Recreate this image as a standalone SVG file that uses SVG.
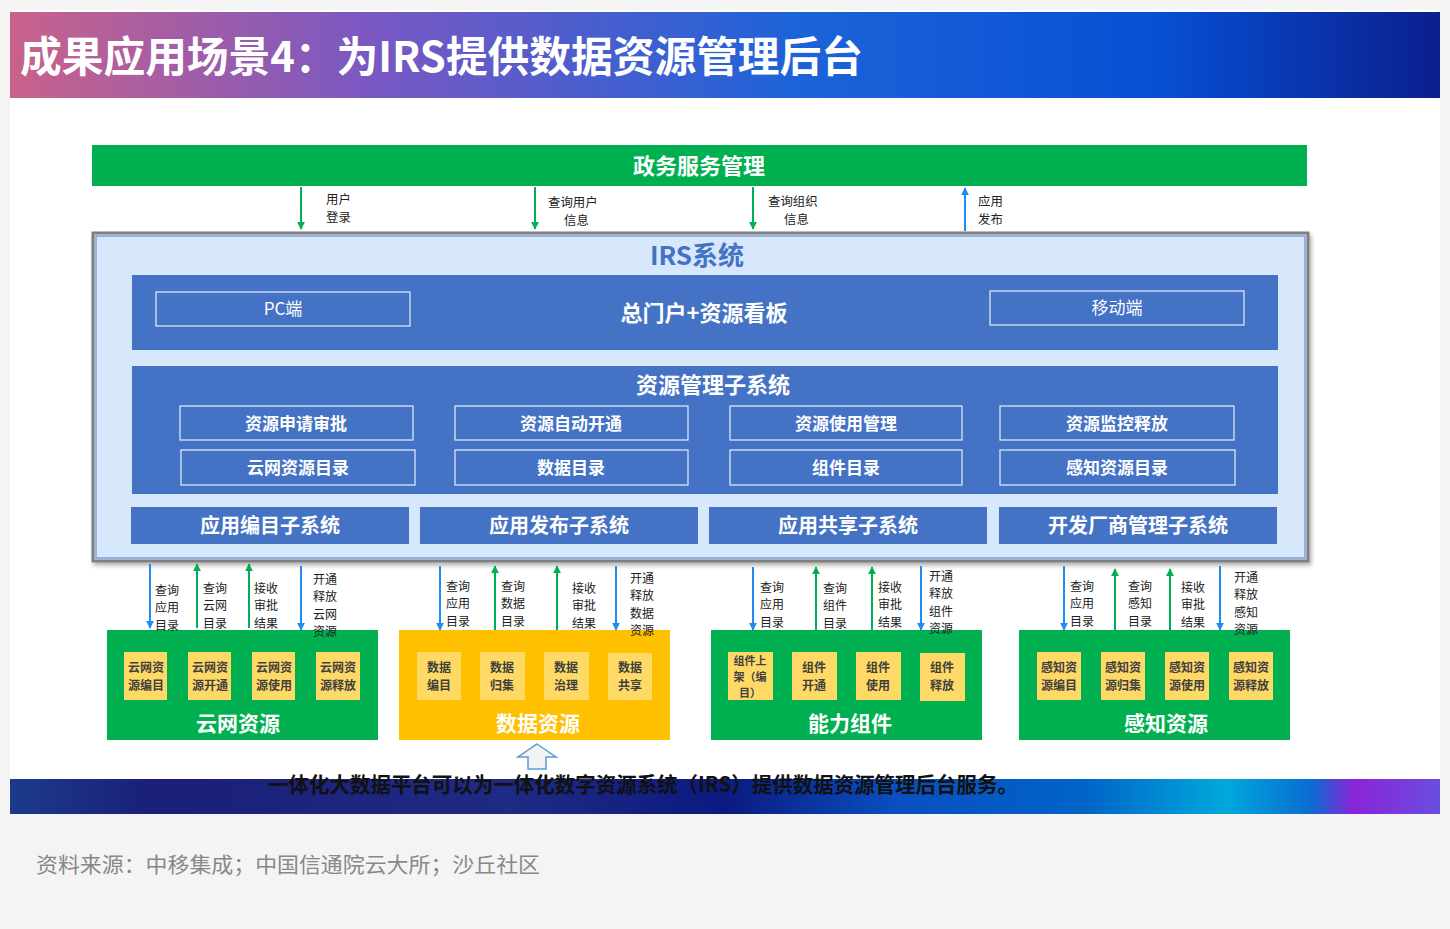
<svg xmlns="http://www.w3.org/2000/svg" width="1450" height="929" viewBox="0 0 1450 929">
<defs>
<linearGradient id="gTitle" x1="0" y1="0" x2="1" y2="0">
<stop offset="0" stop-color="#c9628a"/>
<stop offset="0.25" stop-color="#7a58c2"/>
<stop offset="0.55" stop-color="#1d63d8"/>
<stop offset="0.8" stop-color="#0650d4"/>
<stop offset="1" stop-color="#0b1f8e"/>
</linearGradient>
<linearGradient id="gBanner" x1="0" y1="0" x2="1" y2="0">
<stop offset="0" stop-color="#1c3a8c"/>
<stop offset="0.1" stop-color="#1a1f78"/>
<stop offset="0.35" stop-color="#1f2a84"/>
<stop offset="0.5" stop-color="#0b1a80"/>
<stop offset="0.62" stop-color="#0a4fc0"/>
<stop offset="0.75" stop-color="#0063c6"/>
<stop offset="0.85" stop-color="#00a8dc"/>
<stop offset="0.91" stop-color="#0a6cd0"/>
<stop offset="0.94" stop-color="#8a24d8"/>
<stop offset="1" stop-color="#6a4de0"/>
</linearGradient>
<marker id="aG" viewBox="0 0 10 10" refX="9" refY="5" markerWidth="4" markerHeight="4" orient="auto"><path d="M0,0 L10,5 L0,10 z" fill="#00b050"/></marker>
<marker id="aB" viewBox="0 0 10 10" refX="9" refY="5" markerWidth="4" markerHeight="4" orient="auto"><path d="M0,0 L10,5 L0,10 z" fill="#1e8cf0"/></marker>
<filter id="sh" x="-5%" y="-5%" width="110%" height="110%"><feDropShadow dx="2" dy="3" stdDeviation="2" flood-color="#000" flood-opacity="0.3"/></filter>
</defs>
<style>
.cjk{font-family:"Noto Sans CJK SC","Liberation Sans",sans-serif}
.wb{font-family:"Noto Sans CJK SC","Liberation Sans",sans-serif;font-weight:bold;fill:#fff;text-anchor:middle}
.lbl{font-family:"Noto Sans CJK SC","Liberation Sans",sans-serif;font-size:12px;fill:#222}
.tl{font-family:"Noto Sans CJK SC","Liberation Sans",sans-serif;font-size:12.4px;fill:#222}
.blue{fill:#4472c4}
.ob{fill:none;stroke:#e8eefa;stroke-width:1.2}
.yb{fill:#ffd966}
.yt{font-family:"Noto Sans CJK SC","Liberation Sans",sans-serif;font-weight:bold;font-size:12px;fill:#404040;text-anchor:middle}
.yt3{font-family:"Noto Sans CJK SC","Liberation Sans",sans-serif;font-weight:bold;font-size:11px;fill:#404040;text-anchor:middle}
.gl{stroke:#00b050;stroke-width:2;fill:none}
.bl{stroke:#1e8cf0;stroke-width:2;fill:none}
</style>
<rect x="0" y="0" width="1450" height="929" fill="#f4f4f4"/>
<rect x="10" y="10" width="1430" height="804" rx="6" fill="#ffffff"/>
<g id="title">
<rect x="10" y="12" width="1430" height="86" fill="url(#gTitle)"/>
<text x="20" y="72" class="cjk" font-size="42" font-weight="bold" fill="#fff" textLength="843" lengthAdjust="spacingAndGlyphs">成果应用场景4：为IRS提供数据资源管理后台</text>
</g>
<g id="gov">
<rect x="92" y="145" width="1215" height="41" fill="#00b050"/>
<text x="699" y="174" class="wb" font-size="22">政务服务管理</text>
</g>
<g id="irs">
<rect x="93" y="233" width="1215" height="328" fill="#d7e7fc" stroke="#7f7f7f" stroke-width="3" filter="url(#sh)"/>
<rect x="96" y="236" width="1209" height="322" fill="none" stroke="#6c8fd4" stroke-width="1.2"/>
<text x="697" y="265" class="cjk" font-size="26" font-weight="bold" fill="#4472c4" text-anchor="middle">IRS系统</text>
</g>
<g id="portal">
<rect x="132" y="275" width="1146" height="75" class="blue"/>
<text x="704" y="321" class="wb" font-size="22">总门户+资源看板</text>
<rect x="156" y="292" width="254" height="34" class="ob"/>
<text x="283" y="315" class="cjk" font-size="17" fill="#fff" text-anchor="middle">PC端</text>
<rect x="990" y="291" width="254" height="34" class="ob"/>
<text x="1117" y="314" class="cjk" font-size="17" fill="#fff" text-anchor="middle">移动端</text>
</g>
<g id="resmgr">
<rect x="132" y="366" width="1146" height="128" class="blue"/>
<text x="713" y="393" class="wb" font-size="22">资源管理子系统</text>
<rect x="180" y="406" width="233" height="34" class="ob"/><text x="296" y="430" class="wb" font-size="17">资源申请审批</text>
<rect x="455" y="406" width="233" height="34" class="ob"/><text x="571" y="430" class="wb" font-size="17">资源自动开通</text>
<rect x="730" y="406" width="232" height="34" class="ob"/><text x="846" y="430" class="wb" font-size="17">资源使用管理</text>
<rect x="1000" y="406" width="234" height="34" class="ob"/><text x="1117" y="430" class="wb" font-size="17">资源监控释放</text>
<rect x="181" y="450" width="234" height="35" class="ob"/><text x="298" y="474" class="wb" font-size="17">云网资源目录</text>
<rect x="455" y="450" width="233" height="35" class="ob"/><text x="571" y="474" class="wb" font-size="17">数据目录</text>
<rect x="730" y="450" width="232" height="35" class="ob"/><text x="846" y="474" class="wb" font-size="17">组件目录</text>
<rect x="1000" y="450" width="235" height="35" class="ob"/><text x="1117" y="474" class="wb" font-size="17">感知资源目录</text>
</g>
<g id="sub1"><rect x="131" y="507" width="278" height="37" class="blue"/><text x="270" y="533" class="wb" font-size="20">应用编目子系统</text></g>
<g id="sub2"><rect x="420" y="507" width="278" height="37" class="blue"/><text x="559" y="533" class="wb" font-size="20">应用发布子系统</text></g>
<g id="sub3"><rect x="709" y="507" width="278" height="37" class="blue"/><text x="848" y="533" class="wb" font-size="20">应用共享子系统</text></g>
<g id="sub4"><rect x="999" y="507" width="278" height="37" class="blue"/><text x="1138" y="533" class="wb" font-size="20">开发厂商管理子系统</text></g>
<g id="cloud">
<rect x="107" y="630" width="271" height="110" fill="#00b050"/>
<rect x="124" y="652" width="43" height="48" class="yb"/><text x="146" y="672" class="yt">云网资<tspan x="146" dy="17.5">源编目</tspan></text>
<rect x="188" y="652" width="43" height="48" class="yb"/><text x="210" y="672" class="yt">云网资<tspan x="210" dy="17.5">源开通</tspan></text>
<rect x="252" y="652" width="43" height="48" class="yb"/><text x="274" y="672" class="yt">云网资<tspan x="274" dy="17.5">源使用</tspan></text>
<rect x="316" y="652" width="44" height="48" class="yb"/><text x="338" y="672" class="yt">云网资<tspan x="338" dy="17.5">源释放</tspan></text>
<text x="238" y="731" class="wb" font-size="21">云网资源</text>
</g>
<g id="data">
<rect x="399" y="630" width="271" height="110" fill="#ffc000"/>
<rect x="417" y="652" width="44" height="48" class="yb"/><text x="439" y="672" class="yt">数据<tspan x="439" dy="17.5">编目</tspan></text>
<rect x="480" y="652" width="45" height="48" class="yb"/><text x="502" y="672" class="yt">数据<tspan x="502" dy="17.5">归集</tspan></text>
<rect x="544" y="652" width="45" height="48" class="yb"/><text x="566" y="672" class="yt">数据<tspan x="566" dy="17.5">治理</tspan></text>
<rect x="608" y="653" width="44" height="47" class="yb"/><text x="630" y="672" class="yt">数据<tspan x="630" dy="17.5">共享</tspan></text>
<text x="538" y="731" class="wb" font-size="21">数据资源</text>
</g>
<g id="comp">
<rect x="711" y="630" width="271" height="110" fill="#00b050"/>
<rect x="728" y="652" width="45" height="48" class="yb"/><text x="750" y="665" class="yt3">组件上<tspan x="750" dy="16">架（编</tspan><tspan x="750" dy="16">目）</tspan></text>
<rect x="792" y="652" width="45" height="48" class="yb"/><text x="814" y="672" class="yt">组件<tspan x="814" dy="17.5">开通</tspan></text>
<rect x="856" y="652" width="45" height="48" class="yb"/><text x="878" y="672" class="yt">组件<tspan x="878" dy="17.5">使用</tspan></text>
<rect x="920" y="653" width="45" height="48" class="yb"/><text x="942" y="672" class="yt">组件<tspan x="942" dy="17.5">释放</tspan></text>
<text x="850" y="731" class="wb" font-size="21">能力组件</text>
</g>
<g id="sense">
<rect x="1019" y="630" width="271" height="110" fill="#00b050"/>
<rect x="1037" y="652" width="44" height="48" class="yb"/><text x="1059" y="672" class="yt">感知资<tspan x="1059" dy="17.5">源编目</tspan></text>
<rect x="1101" y="652" width="44" height="48" class="yb"/><text x="1123" y="672" class="yt">感知资<tspan x="1123" dy="17.5">源归集</tspan></text>
<rect x="1165" y="652" width="44" height="48" class="yb"/><text x="1187" y="672" class="yt">感知资<tspan x="1187" dy="17.5">源使用</tspan></text>
<rect x="1229" y="652" width="44" height="48" class="yb"/><text x="1251" y="672" class="yt">感知资<tspan x="1251" dy="17.5">源释放</tspan></text>
<text x="1166" y="731" class="wb" font-size="21">感知资源</text>
</g>
<g id="connectors">
<line x1="301" y1="187" x2="301" y2="229" class="gl" marker-end="url(#aG)"/>
<line x1="535" y1="187" x2="535" y2="229" class="gl" marker-end="url(#aG)"/>
<line x1="753" y1="187" x2="753" y2="229" class="gl" marker-end="url(#aG)"/>
<line x1="965" y1="231" x2="965" y2="188" class="bl" marker-end="url(#aB)"/>
<line x1="150" y1="564" x2="150" y2="628" class="bl" marker-end="url(#aB)"/>
<line x1="197" y1="628" x2="197" y2="564" class="gl" marker-end="url(#aG)"/>
<line x1="249" y1="628" x2="249" y2="564" class="gl" marker-end="url(#aG)"/>
<line x1="301" y1="566" x2="301" y2="630" class="bl" marker-end="url(#aB)"/>
<line x1="440" y1="566" x2="440" y2="630" class="bl" marker-end="url(#aB)"/>
<line x1="495" y1="630" x2="495" y2="566" class="gl" marker-end="url(#aG)"/>
<line x1="557" y1="630" x2="557" y2="566" class="gl" marker-end="url(#aG)"/>
<line x1="616" y1="566" x2="616" y2="630" class="bl" marker-end="url(#aB)"/>
<line x1="753" y1="567" x2="753" y2="630" class="bl" marker-end="url(#aB)"/>
<line x1="816" y1="630" x2="816" y2="567" class="gl" marker-end="url(#aG)"/>
<line x1="872" y1="630" x2="872" y2="567" class="gl" marker-end="url(#aG)"/>
<line x1="921" y1="566" x2="921" y2="630" class="bl" marker-end="url(#aB)"/>
<line x1="1064" y1="566" x2="1064" y2="630" class="bl" marker-end="url(#aB)"/>
<line x1="1115" y1="630" x2="1115" y2="569" class="gl" marker-end="url(#aG)"/>
<line x1="1170" y1="630" x2="1170" y2="569" class="gl" marker-end="url(#aG)"/>
<line x1="1220" y1="566" x2="1220" y2="630" class="bl" marker-end="url(#aB)"/>
</g>
<g id="labels">
<text class="tl" x="326" y="204">用户<tspan x="326" dy="18">登录</tspan></text>
<text class="tl" x="548" y="207">查询用户<tspan x="564" dy="18">信息</tspan></text>
<text class="tl" x="768" y="206">查询组织<tspan x="784" dy="18">信息</tspan></text>
<text class="tl" x="978" y="206">应用<tspan x="978" dy="18">发布</tspan></text>
<text class="lbl" x="155" y="595">查询<tspan x="155" dy="17.4">应用</tspan><tspan x="155" dy="17.4">目录</tspan></text>
<text class="lbl" x="203" y="593">查询<tspan x="203" dy="17.4">云网</tspan><tspan x="203" dy="17.4">目录</tspan></text>
<text class="lbl" x="254" y="593">接收<tspan x="254" dy="17.4">审批</tspan><tspan x="254" dy="17.4">结果</tspan></text>
<text class="lbl" x="313" y="584">开通<tspan x="313" dy="17.4">释放</tspan><tspan x="313" dy="17.4">云网</tspan><tspan x="313" dy="17.4">资源</tspan></text>
<text class="lbl" x="446" y="591">查询<tspan x="446" dy="17.4">应用</tspan><tspan x="446" dy="17.4">目录</tspan></text>
<text class="lbl" x="501" y="591">查询<tspan x="501" dy="17.4">数据</tspan><tspan x="501" dy="17.4">目录</tspan></text>
<text class="lbl" x="572" y="593">接收<tspan x="572" dy="17.4">审批</tspan><tspan x="572" dy="17.4">结果</tspan></text>
<text class="lbl" x="630" y="583">开通<tspan x="630" dy="17.4">释放</tspan><tspan x="630" dy="17.4">数据</tspan><tspan x="630" dy="17.4">资源</tspan></text>
<text class="lbl" x="760" y="592">查询<tspan x="760" dy="17.4">应用</tspan><tspan x="760" dy="17.4">目录</tspan></text>
<text class="lbl" x="823" y="593">查询<tspan x="823" dy="17.4">组件</tspan><tspan x="823" dy="17.4">目录</tspan></text>
<text class="lbl" x="878" y="592">接收<tspan x="878" dy="17.4">审批</tspan><tspan x="878" dy="17.4">结果</tspan></text>
<text class="lbl" x="929" y="581">开通<tspan x="929" dy="17.4">释放</tspan><tspan x="929" dy="17.4">组件</tspan><tspan x="929" dy="17.4">资源</tspan></text>
<text class="lbl" x="1070" y="591">查询<tspan x="1070" dy="17.4">应用</tspan><tspan x="1070" dy="17.4">目录</tspan></text>
<text class="lbl" x="1128" y="591">查询<tspan x="1128" dy="17.4">感知</tspan><tspan x="1128" dy="17.4">目录</tspan></text>
<text class="lbl" x="1181" y="592">接收<tspan x="1181" dy="17.4">审批</tspan><tspan x="1181" dy="17.4">结果</tspan></text>
<text class="lbl" x="1234" y="582">开通<tspan x="1234" dy="17.4">释放</tspan><tspan x="1234" dy="17.4">感知</tspan><tspan x="1234" dy="17.4">资源</tspan></text>
</g>
<g id="banner">
<rect x="10" y="779" width="1430" height="35" fill="url(#gBanner)"/>
<path d="M537,744 L556,757 L546,757 L546,769 L528,769 L528,757 L518,757 Z" fill="#f2f2f2" stroke="#5b9bd5" stroke-width="1.5"/>
<text x="268" y="792" class="cjk" font-size="21" font-weight="bold" fill="#111" textLength="750" lengthAdjust="spacingAndGlyphs">一体化大数据平台可以为一体化数字资源系统（IRS）提供数据资源管理后台服务。</text>
</g>
<text x="36" y="872" class="cjk" font-size="21" fill="#888" textLength="504" lengthAdjust="spacingAndGlyphs">资料来源：中移集成；中国信通院云大所；沙丘社区</text>
</svg>
